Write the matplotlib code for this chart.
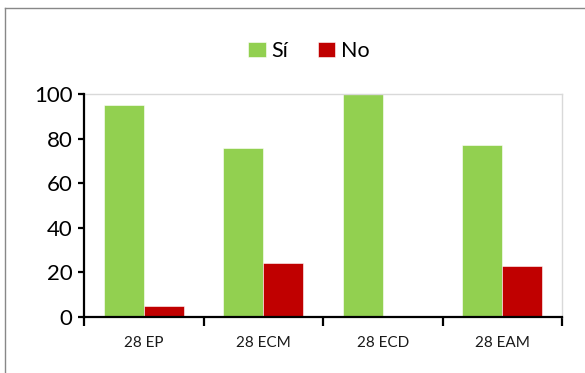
import matplotlib
matplotlib.use("Agg")
import matplotlib.pyplot as plt
from matplotlib.lines import Line2D
import numpy as np

categories = ["28 EP", "28 ECM", "28 ECD", "28 EAM"]
si_values = [95, 76, 100, 77]
no_values = [5, 24, 0, 23]
series_names = ["Sí", "No"]
y_ticks = [0, 20, 40, 60, 80, 100]

GREEN = "#92d050"
RED = "#c00000"

plt.rcParams["font.family"] = ["Lato", "DejaVu Sans"]

fig = plt.figure(figsize=(5.85, 3.73), dpi=100)
ax = fig.add_axes([0.1441, 0.1509, 0.8166, 0.5963])

x = np.arange(len(categories))
bw = 0.335
ax.bar(x - bw / 2, si_values, bw, color=GREEN, label=series_names[0],
       edgecolor="white", linewidth=0.4)
ax.bar(x + bw / 2, no_values, bw, color=RED, label=series_names[1],
       edgecolor="white", linewidth=0.4)

ax.set_xlim(-0.5, len(categories) - 0.5)
ax.set_ylim(0, 100)

# spines: black axes on left/bottom, light frame on top/right
for side in ("left", "bottom"):
    ax.spines[side].set_color("black")
    ax.spines[side].set_linewidth(1.6)
for side in ("top", "right"):
    ax.spines[side].set_color("#d9d9d9")
    ax.spines[side].set_linewidth(1.0)
ax.spines["left"].set_zorder(5)
ax.spines["bottom"].set_zorder(5)

ax.set_yticks(y_ticks)
ax.tick_params(axis="y", direction="out", length=4.5, width=1.6,
               labelsize=16, pad=4, colors="black")

ax.set_xticks(x)
ax.set_xticklabels(categories)
ax.tick_params(axis="x", which="major", length=0, pad=14, labelsize=11)
ax.set_xticks(np.arange(len(categories) + 1) - 0.5, minor=True)
ax.tick_params(axis="x", which="minor", direction="out", length=6.5,
               width=1.6, color="black")
for lbl in ax.get_xticklabels():
    lbl.set_color("#1a1a1a")

fig.legend(loc="center", bbox_to_anchor=(0.528, 0.862), ncol=2,
           frameon=False, fontsize=15.5, handlelength=0.8, handleheight=0.7,
           handletextpad=0.25, columnspacing=1.4, borderpad=0)

# thin grey frame around the chart area
fig.add_artist(Line2D([5 / 585, 1.0], [1 - 8 / 373, 1 - 8 / 373],
                      color="#888888", linewidth=1.0, transform=fig.transFigure))
fig.add_artist(Line2D([5 / 585, 5 / 585], [0.0, 1 - 8 / 373],
                      color="#888888", linewidth=1.0, transform=fig.transFigure))

fig.savefig("out.png", dpi=100)
